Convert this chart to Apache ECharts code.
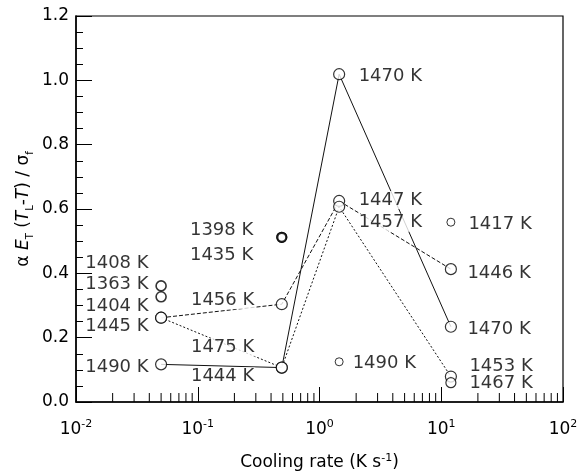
<!DOCTYPE html>
<html><head><meta charset="utf-8">
<script src="https://cdn.jsdelivr.net/npm/echarts@6/dist/echarts.min.js"></script>
<style>html,body{margin:0;padding:0;background:#fff}#c{width:581px;height:473px}</style>
</head><body><div id="c"></div>
<script>
// ---- data ----
const rateX = [0.05, 0.49, 1.45, 12.0];
const solidY = [0.117, 0.107, 1.019, 0.234];
const solidNames = ['1490 K', '1444 K', '1470 K', '1470 K'];
const dashY = [0.262, 0.304, 0.625, 0.413];
const dashNames = ['1404 K', '1456 K', '1447 K', '1446 K'];
const dotY = [0.262, 0.107, 0.607, 0.079];
const dotNames = ['1445 K', '1475 K', '1457 K', '1453 K'];
const looseX = [0.05, 0.05, 0.49, 0.49, 1.45, 12.0, 12.0];
const looseY = [0.361, 0.327, 0.512, 0.512, 0.125, 0.559, 0.060];
const looseNames = ['1408 K', '1363 K', '1398 K', '1435 K', '1490 K', '1417 K', '1467 K'];
const yTickLabels = ['0.0', '0.2', '0.4', '0.6', '0.8', '1.0', '1.2'];
const xExponents = ['-2', '-1', '0', '1', '2'];

// ---- label layout (style, not data) ----
const solidLab = [['left', -1, 3], ['left', -16, 9], ['right', 8, 2], ['right', 5, 3]];
const dashLab = [['left', -1, -11], ['left', -16, -4], ['right', 8, -1], ['right', 5, 4]];
const dotLab = [['left', -1, 9], ['left', -16, -20], ['right', 8, 16], ['right', 7, -10]];
const looseLab = [['left', -1, -23], ['left', -1, -12], ['left', -17, -7], ['left', -17, 18], ['right', 2, 2], ['right', 6, 2], ['right', 7, 1]];
const looseSize = [10, 10, 9, 9, 8, 8, 10];
const looseWidth = [1.6, 1.6, 2.2, 2.2, 1, 1, 1.2];

function pts(xs, ys, names, lab, sizes, widths) {
  return xs.map((x, i) => ({
    value: [x, ys[i]], name: names[i],
    symbolSize: sizes ? sizes[i] : 11,
    itemStyle: { color: '#fff', borderColor: '#000', borderWidth: widths ? widths[i] : 1.2 }
  }));
}
function labs(xs, ys, names, lab) {
  return xs.map((x, i) => ({
    value: [x, ys[i]], name: names[i],
    label: {
      show: true, position: lab[i][0], offset: [lab[i][1], lab[i][2]], distance: 5,
      formatter: names[i], fontFamily: 'DejaVu Sans', fontSize: 18, color: '#000',
      backgroundColor: '#fff', padding: [0, 1]
    }
  }));
}

const pointData = [].concat(
  pts(rateX, solidY, solidNames), pts(rateX, dashY, dashNames), pts(rateX, dotY, dotNames),
  pts(looseX, looseY, looseNames, null, looseSize, looseWidth)
);
const labelData = [].concat(
  labs(rateX, solidY, solidNames, solidLab), labs(rateX, dashY, dashNames, dashLab),
  labs(rateX, dotY, dotNames, dotLab), labs(looseX, looseY, looseNames, looseLab)
);

const minorTicks = [];
[0.01, 0.1, 1, 10].forEach(d => { for (let k = 2; k <= 9; k++) minorTicks.push([+(d * k).toPrecision(3), 0]); });

const chart = echarts.init(document.getElementById('c'), null, { renderer: 'canvas' });
chart.setOption({
  animation: false,
  backgroundColor: '#fff',
  grid: { left: 76, right: 18, top: 16, bottom: 71, show: true, borderColor: '#000', borderWidth: 1.2,
          containLabel: false, outerBoundsMode: 'none' },
  xAxis: {
    type: 'log', logBase: 10, min: 0.01, max: 100,
    axisLine: { lineStyle: { color: '#000', width: 1.5 } },
    axisTick: { inside: true, length: 15, lineStyle: { color: '#000' } },
    minorTick: { show: false },
    splitLine: { show: false },
    axisLabel: {
      margin: 17, color: '#000',
      formatter: v => { const e = Math.round(Math.log10(v)); return '{b|10}{s|' + xExponents[e + 2] + '}'; },
      rich: {
        b: { fontFamily: 'DejaVu Sans', fontSize: 17, lineHeight: 22, color: '#000' },
        s: { fontFamily: 'DejaVu Sans', fontSize: 11, lineHeight: 12, verticalAlign: 'top', color: '#000' }
      }
    },
    name: 'Cooling rate (K s{s|-1})', nameLocation: 'middle', nameGap: 51, nameMoveOverlap: false,
    nameTextStyle: {
      fontFamily: 'DejaVu Sans', fontSize: 17, color: '#000', lineHeight: 20,
      rich: { s: { fontFamily: 'DejaVu Sans', fontSize: 11, lineHeight: 11, verticalAlign: 'top', color: '#000' } }
    }
  },
  yAxis: {
    type: 'value', min: 0, max: 1.2, interval: 0.2,
    axisLine: { show: true, lineStyle: { color: '#000', width: 1.5 } },
    axisTick: { show: true, inside: true, length: 16, lineStyle: { color: '#000' } },
    minorTick: { show: true, splitNumber: 4, length: 7, lineStyle: { color: '#000' } },
    splitLine: { show: false },
    axisLabel: {
      margin: 7, fontFamily: 'DejaVu Sans', fontSize: 17, color: '#000',
      formatter: v => yTickLabels[Math.round(v / 0.2)]
    },
    name: '{n|α }{i|E}{s|T}{n| (}{i|T}{s|L}{n|-}{i|T}{n|) / σ}{s|f}',
    nameLocation: 'middle', nameRotate: 90, nameGap: 41, nameMoveOverlap: false,
    nameTextStyle: {
      rich: {
        n: { fontFamily: 'DejaVu Sans', fontSize: 17, lineHeight: 22, color: '#000' },
        i: { fontFamily: 'DejaVu Sans', fontStyle: 'italic', fontSize: 17, lineHeight: 22, color: '#000' },
        s: { fontFamily: 'DejaVu Sans', fontSize: 10, lineHeight: 12, verticalAlign: 'bottom', color: '#000' }
      }
    }
  },
  series: [
    { type: 'custom', silent: true, z: 1, data: minorTicks,
      renderItem: (params, api) => {
        const p = api.coord([api.value(0), 0]);
        return { type: 'line', shape: { x1: p[0], y1: p[1], x2: p[0], y2: p[1] - 9 }, style: { stroke: '#000', lineWidth: 1 } };
      } },
    { type: 'line', silent: true, z: 2, symbol: 'none', data: rateX.map((x, i) => [x, solidY[i]]),
      lineStyle: { color: '#111', width: 1, type: 'solid' } },
    { type: 'line', silent: true, z: 2, symbol: 'none', data: rateX.map((x, i) => [x, dashY[i]]),
      lineStyle: { color: '#111', width: 1, type: [4, 2] } },
    { type: 'line', silent: true, z: 2, symbol: 'none', data: rateX.map((x, i) => [x, dotY[i]]),
      lineStyle: { color: '#111', width: 1, type: [2, 2] } },
    { type: 'scatter', silent: true, z: 4, symbol: 'circle', data: labelData, symbolSize: 11,
      itemStyle: { color: 'rgba(0,0,0,0)', borderWidth: 0 } },
    { type: 'scatter', silent: true, z: 5, symbol: 'circle', data: pointData }
  ]
});
</script></body></html>
